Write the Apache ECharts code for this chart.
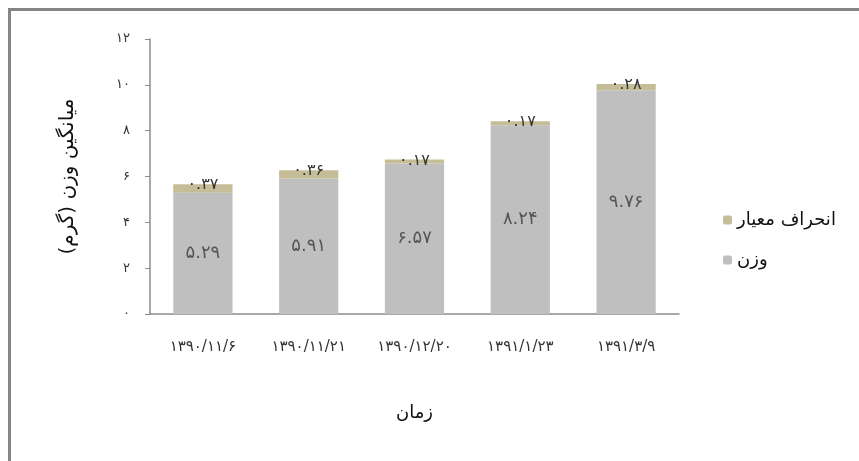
<!DOCTYPE html>
<html>
<head>
<meta charset="utf-8">
<script src="https://cdn.jsdelivr.net/npm/echarts@6/dist/echarts.min.js"></script>
<style>
  html, body { margin: 0; padding: 0; background: #fff; }
  #chart { width: 859px; height: 461px; }
</style>
</head>
<body>
<div id="chart"></div>
<script>
var dates = ['۱۳۹۰/۱۱/۶', '۱۳۹۰/۱۱/۲۱', '۱۳۹۰/۱۲/۲۰', '۱۳۹۱/۱/۲۳', '۱۳۹۱/۳/۹'];
var weight = [5.29, 5.91, 6.57, 8.24, 9.76];
var stdDev = [0.37, 0.36, 0.17, 0.17, 0.28];
var yTicks = [0, 2, 4, 6, 8, 10, 12];

var FONT = 'DejaVu Sans';

// اعداد به فارسی
function fa(s) {
    return String(s).replace(/[0-9]/g, function (d) {
        return '۰۱۲۳۴۵۶۷۸۹'[+d];
    });
}

var myChart = echarts.init(document.getElementById('chart'));
var option = {
    animation: false,
    textStyle: { fontFamily: FONT },
    graphic: [
        { type: 'rect', shape: { x: 8, y: 8, width: 851, height: 3 }, style: { fill: '#858585' } },
        { type: 'rect', shape: { x: 8, y: 8, width: 3, height: 453 }, style: { fill: '#858585' } }
    ],
    grid: { left: 150, right: 180, top: 39, bottom: 147 },
    legend: {
        orient: 'vertical',
        left: 718,
        top: 206,
        itemWidth: 9,
        itemHeight: 9,
        itemGap: 22,
        textStyle: { fontFamily: FONT, fontSize: 18, color: '#111' },
        data: ['انحراف معیار', 'وزن']
    },
    xAxis: {
        type: 'category',
        data: dates,
        name: 'زمان',
        nameLocation: 'middle',
        nameGap: 90,
        nameTextStyle: { fontFamily: FONT, fontSize: 18, color: '#111' },
        axisLine: { lineStyle: { color: '#8c8c8c', width: 1.5 } },
        axisTick: { show: false },
        axisLabel: { margin: 26, fontFamily: FONT, fontSize: 15, color: '#333' }
    },
    yAxis: {
        type: 'value',
        min: 0,
        max: 12,
        interval: 2,
        name: 'میانگین وزن (گرم)',
        nameLocation: 'middle',
        nameGap: 72,
        nameTextStyle: { fontFamily: FONT, fontSize: 20, color: '#111' },
        axisLine: { show: true, lineStyle: { color: '#8c8c8c', width: 1.5 } },
        axisTick: { show: true, length: 5, lineStyle: { color: '#8c8c8c' } },
        splitLine: { show: false },
        axisLabel: {
            margin: 20,
            fontFamily: FONT,
            fontSize: 13,
            color: '#333',
            formatter: function (v) {
                return yTicks.indexOf(v) >= 0 ? fa(v) : '';
            }
        }
    },
    series: [
        {
            name: 'وزن',
            type: 'bar',
            stack: 'total',
            barWidth: '56%',
            itemStyle: { color: '#bfbfbf' },
            label: {
                show: true,
                position: 'inside',
                fontFamily: FONT,
                fontSize: 18,
                color: '#555',
                formatter: function (p) { return fa(p.value.toFixed(2)); }
            },
            data: weight
        },
        {
            name: 'انحراف معیار',
            type: 'bar',
            stack: 'total',
            barWidth: '56%',
            itemStyle: { color: '#c4bd97' },
            label: {
                show: true,
                position: 'top',
                distance: -9,
                fontFamily: FONT,
                fontSize: 16,
                color: '#333',
                formatter: function (p) { return fa(p.value.toFixed(2)); }
            },
            data: stdDev
        }
    ]
};
myChart.setOption(option);
</script>
</body>
</html>
